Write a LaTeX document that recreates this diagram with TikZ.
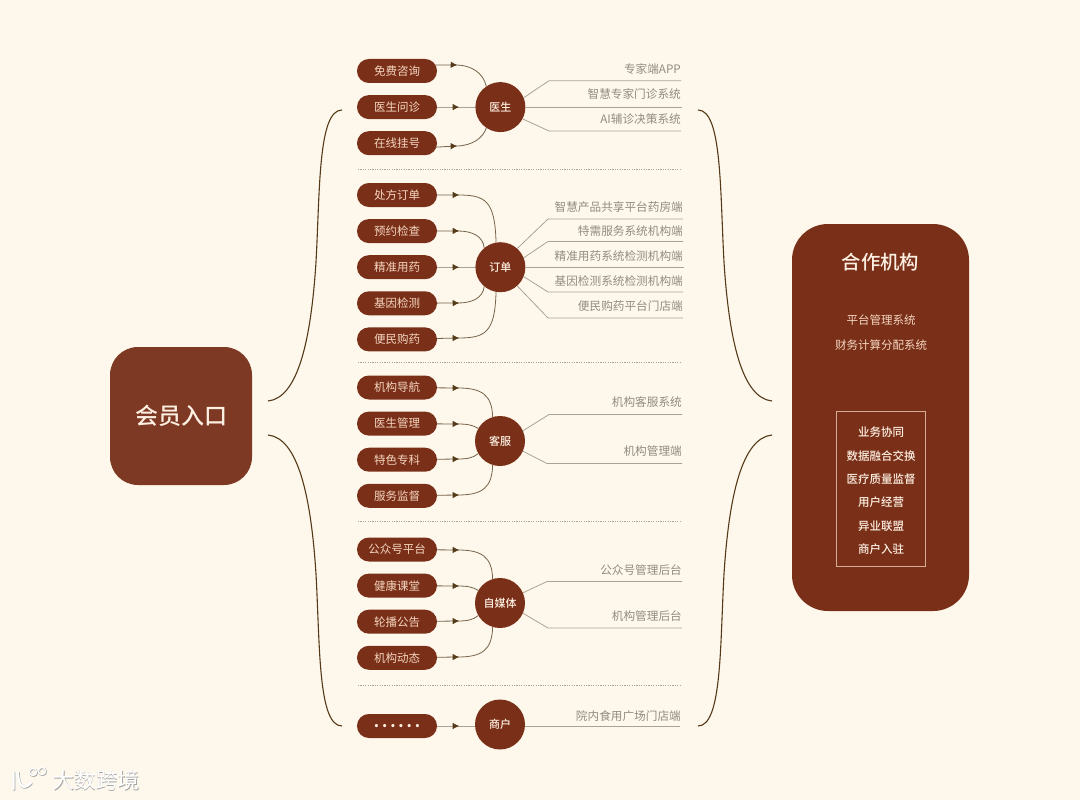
\documentclass[tikz,border=0pt]{standalone}
\usepackage{fontspec}
\setmainfont{Noto Sans CJK SC}
\newfontfamily\medfont{Noto Sans CJK SC Medium}
\usepackage{xcolor}
\usepackage{tikz}
\usetikzlibrary{arrows.meta, positioning, decorations.markings}
\definecolor{cream}{RGB}{254, 248, 236}
\definecolor{rust}{RGB}{122, 47, 24}
\definecolor{rustsoft}{RGB}{126, 57, 36}
\definecolor{pilltext}{RGB}{244, 214, 192}
\definecolor{softtext}{RGB}{253, 240, 226}
\definecolor{graytext}{RGB}{146, 140, 128}
\definecolor{rulegray}{RGB}{170, 163, 148}
\definecolor{bark}{RGB}{84, 58, 24}

\begin{document}
\begin{tikzpicture}[
  x=1pt, y=-1pt,
  node distance=11.7pt and 38pt,
  pill/.style={fill=rust, rounded corners=11.9pt, inner sep=0pt,
               minimum width=80pt, minimum height=24pt,
               font=\fontsize{11.5}{12}\selectfont, text=pilltext},
  hub/.style={circle, fill=rust, inner sep=0pt, minimum size=50pt,
              font=\fontsize{11}{12}\medfont, text=softtext},
  bracket/.style={bark, line width=1.1pt},
  feed/.style={rulegray, line width=0.8pt,
               postaction={decorate, decoration={markings,
                 mark=at position 22pt with {\arrow[bark]{Latex[length=6.5pt, width=6.5pt]}}}}},
  feedcurve/.style={feed, draw=bark!60!rulegray},
  sysline/.style={rulegray, line width=0.8pt},
  dotline/.style={rulegray, line width=0.7pt, dash pattern=on 1.2pt off 1.2pt},
  lbl/.style={font=\fontsize{11.65}{12}\selectfont, text=graytext, anchor=south east, inner sep=0pt},
  sys/.style={font=\fontsize{11.5}{12}\selectfont, text=pilltext, inner sep=0pt},
  duty/.style={font=\fontsize{11.5}{12}\medfont, text=softtext, inner sep=0pt},
  wmark/.style={font=\fontsize{21.8}{23}\selectfont, inner sep=0pt}]
  \useasboundingbox (0,0) rectangle (1080,800);
  \fill[cream] (0,0) rectangle (1080,800);

  % entry and partner blocks
  \node[fill=rustsoft, rounded corners=28pt, minimum width=142pt, minimum height=138pt,
        font=\fontsize{23}{24}\medfont, text=softtext] (entry) at (181,416) {会员入口};
  \node[fill=rust, rounded corners=36pt, minimum width=177pt, minimum height=387pt] (partner) at (880.5,417.5) {};
  \node[font=\fontsize{19.3}{21}\medfont, text=softtext, inner sep=0pt] (ptitle) at (880.5,262) {合作机构};
  \node[sys] (psys1) at (881,320.3) {平台管理系统};
  \node[sys] (psys2) at (881,345) {财务计算分配系统};
  \node[draw=pilltext!75!rust, line width=0.6pt, minimum width=89pt, minimum height=154.5pt] (pbox) at (881,488.7) {};
  \node[duty] (duty1) at (881,432.5) {业务协同};
  \node[duty] (duty2) at (881,455.8) {数据融合交换};
  \node[duty] (duty3) at (881,479.2) {医疗质量监督};
  \node[duty] (duty4) at (881,502.5) {用户经营};
  \node[duty] (duty5) at (881,525.8) {异业联盟};
  \node[duty] (duty6) at (881,549.2) {商户入驻};

  % free ends of the four brackets
  \coordinate (ltop) at (342,110);
  \coordinate (lbot) at (342,726);
  \coordinate (rtop) at (698,110);
  \coordinate (rbot) at (698,726);
  \coordinate (lup) at (268,401);
  \coordinate (ldn) at (268,435);
  \coordinate (rup) at (772,401);
  \coordinate (rdn) at (772,435);
  \draw[bracket] (lup) .. controls (298,398) and (311,340) .. (316,262)
    .. controls (320,190) and (318,110) .. (ltop);
  \draw[bracket] (ldn) .. controls (298,438) and (311,496) .. (316,574)
    .. controls (320,646) and (318,726) .. (lbot);
  \draw[bracket] (rup) .. controls (742,398) and (729,340) .. (724,262)
    .. controls (720,190) and (722,110) .. (rtop);
  \draw[bracket] (rdn) .. controls (742,438) and (729,496) .. (724,574)
    .. controls (720,646) and (722,726) .. (rbot);

  % group 1
  \node[pill] (free) at (397,71) {免费咨询};
  \node[pill, below=of free] (ask) {医生问诊};
  \node[pill, below=of ask] (book) {在线挂号};
  \node[hub, right=of ask] (doc) {医生};
  \draw[feedcurve] ([shift={(-2pt,6pt)}]free.east) -- (455,65) .. controls (472,65) and (483,73) .. (doc.124);
  \draw[feed] (ask) -- (doc);
  \draw[feedcurve] ([shift={(-2pt,-4pt)}]book.east) -- (456,146) .. controls (472,146) and (483,138) .. (doc.236);
  \draw[sysline] (doc.22) -- (549,80.7) -- (681,80.7);
  \draw[sysline] (doc.east) -- +(156,0);
  \draw[sysline] (doc.-28) -- (549,131) -- (681,131);
  \node[lbl] (doc1) at (681,75) {专家端APP};
  \node[lbl] (doc2) at (681,100) {智慧专家门诊系统};
  \node[lbl] (doc3) at (681,125) {AI辅诊决策系统};
  \draw[dotline] (358,169.5) -- (682,169.5);

  % group 2
  \node[pill] (rx) at (397,195) {处方订单};
  \node[pill, below=of rx] (check) {预约检查};
  \node[pill, below=of check] (drug) {精准用药};
  \node[pill, below=of drug] (gene) {基因检测};
  \node[pill, below=of gene] (buy) {便民购药};
  \node[hub, right=of drug] (order) {订单};
  \draw[feedcurve] (rx) -- (458,195) .. controls (485,195) and (495,200) .. (order.100);
  \draw[feedcurve] (check) -- (458,231) .. controls (472,231) and (483,236) .. (order.130);
  \draw[feed] (drug) -- (order);
  \draw[feedcurve] (gene) -- (458,303) .. controls (472,303) and (483,298) .. (order.230);
  \draw[feedcurve] (buy) -- (458,338) .. controls (485,338) and (495,333) .. (order.260);
  \draw[sysline] (order.48) -- (548,219) -- (683,219);
  \draw[sysline] (order.22) -- (548,241.5) -- (683,241.5);
  \draw[sysline] (order.east) -- +(158,0);
  \draw[sysline] (order.-22) -- (548,292) -- (683,292);
  \draw[sysline] (order.-48) -- (548,318) -- (683,318);
  \node[lbl] (ord1) at (683,213) {智慧产品共享平台药房端};
  \node[lbl] (ord2) at (683,237) {特需服务系统机构端};
  \node[lbl] (ord3) at (683,261.5) {精准用药系统检测机构端};
  \node[lbl] (ord4) at (683,287) {基因检测系统检测机构端};
  \node[lbl] (ord5) at (683,312) {便民购药平台门店端};
  \draw[dotline] (358,362.5) -- (682,362.5);

  % group 3
  \node[pill] (guide) at (397,387.5) {机构导航};
  \node[pill, below=of guide] (mgr) {医生管理};
  \node[pill, below=of mgr] (spec) {特色专科};
  \node[pill, below=of spec] (watch) {服务监督};
  \node[hub] (care) at (500,441) {客服};
  \draw[feedcurve] (guide) -- (458,388) .. controls (482,388) and (492,395) .. (care.107);
  \draw[feedcurve] (mgr) -- (458,424) .. controls (467,424) and (473,425) .. (care.150);
  \draw[feedcurve] (spec) -- (458,459) .. controls (467,459) and (473,458) .. (care.210);
  \draw[feedcurve] (watch) -- (458,495) .. controls (482,495) and (492,488) .. (care.253);
  \draw[sysline] (care.24) -- (549,414.5) -- (682,414.5);
  \draw[sysline] (care.-24) -- (547,463.5) -- (682,463.5);
  \node[lbl] (care1) at (682,408) {机构客服系统};
  \node[lbl] (care2) at (682,457) {机构管理端};
  \draw[dotline] (358,521) -- (682,521);

  % group 4
  \node[pill] (wechat) at (397,549.5) {公众号平台};
  \node[pill, below=of wechat] (class) {健康课堂};
  \node[pill, below=of class] (banner) {轮播公告};
  \node[pill, below=of banner] (news) {机构动态};
  \node[hub] (media) at (500,603) {自媒体};
  \draw[feedcurve] (wechat) -- (458,550) .. controls (482,550) and (492,557) .. (media.107);
  \draw[feedcurve] (class) -- (458,586) .. controls (467,586) and (473,587) .. (media.150);
  \draw[feedcurve] (banner) -- (458,621) .. controls (467,621) and (473,620) .. (media.210);
  \draw[feedcurve] (news) -- (458,657) .. controls (482,657) and (492,650) .. (media.253);
  \draw[sysline] (media.24) -- (547,581.5) -- (682,581.5);
  \draw[sysline] (media.-24) -- (548,628) -- (682,628);
  \node[lbl] (media1) at (682,576) {公众号管理后台};
  \node[lbl] (media2) at (682,622) {机构管理后台};
  \draw[dotline] (358,685.5) -- (682,685.5);

  % group 5
  \node[pill, font=\fontsize{15}{16}\selectfont\bfseries, text=softtext] (more) at (397,726)
    {.\kern2.9pt.\kern2.9pt.\kern2.9pt.\kern2.9pt.\kern2.9pt.};
  \node[hub] (shop) at (500,724.5) {商户};
  \draw[feed] (more.east) -- (shop.west |- more.east);
  \draw[sysline] (shop.east |- more.east) -- +(155,0);
  \node[lbl] (shop1) at (681,722) {院内食用广场门店端};

  % watermark
  \node[wmark, text=black!35] (markshade) at (96.6,780.7) {大数跨境};
  \node[wmark, text=white] (mark) at (96,780) {大数跨境};
  \draw[black!35, line width=2.4pt, line cap=round, shift={(0.6,0.7)}] (13.5,772) -- (13.5,789)
    (18,772) .. controls (18,786) and (23,791) .. (31,783);
  \draw[black!35, line width=1.6pt] (33.6,772.7) circle (3.6) (42.6,771.7) circle (3.6);
  \draw[white, line width=2.2pt, line cap=round] (13.5,772) -- (13.5,789)
    (18,772) .. controls (18,786) and (23,791) .. (31,783);
  \draw[white, line width=1.3pt] (33,772) circle (3.6) (42,771) circle (3.6);
\end{tikzpicture}
\end{document}
